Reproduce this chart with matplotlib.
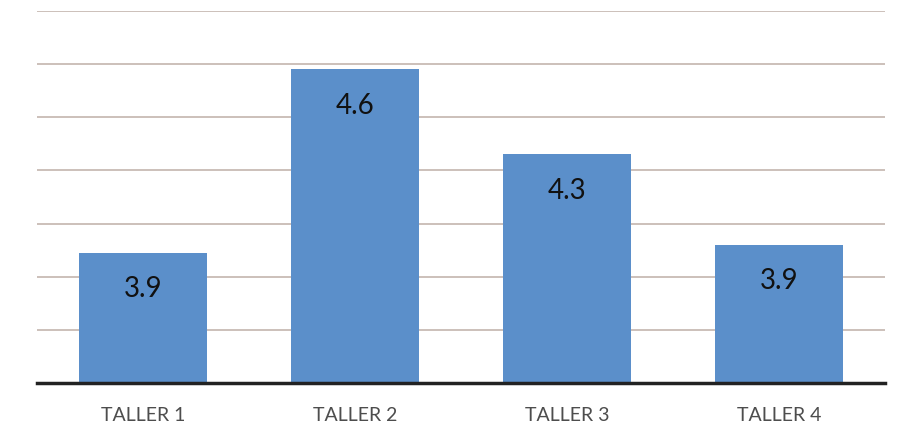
import numpy as np
import matplotlib.pyplot as plt

# Data
talleres = ["TALLER 1", "TALLER 2", "TALLER 3", "TALLER 4"]
valores = [3.89, 4.58, 4.26, 3.92]
etiquetas = ["3.9", "4.6", "4.3", "3.9"]

plt.rcParams['font.family'] = ['Lato', 'DejaVu Sans']

fig = plt.figure(figsize=(9.04, 4.43), dpi=100)
ax = fig.add_axes([0.041, 0.1354, 0.938, 0.8398])

x = np.arange(len(talleres))
bars = ax.bar(x, valores, width=0.6, bottom=0, color="#5b8fca", zorder=3)

for b, lab in zip(bars, etiquetas):
    ax.annotate(lab, (b.get_x() + b.get_width() / 2, b.get_height()),
                xytext=(0, -26), textcoords="offset points",
                ha="center", va="center", fontsize=20, color="#111111", zorder=4)

ax.set_ylim(3.4, 4.8)
ax.set_xlim(-0.5, 3.5)
ax.set_yticks(np.arange(3.4, 4.81, 0.2))
ax.yaxis.grid(True, color="#c8bbb4", linewidth=1.3, zorder=0)
ax.tick_params(axis="y", left=False, labelleft=False)
ax.tick_params(axis="x", length=0, pad=17, labelsize=14, labelcolor="#4d4d4d")
ax.set_xticks(x)
ax.set_xticklabels(talleres)

for s in ["top", "right", "left"]:
    ax.spines[s].set_visible(False)
ax.spines["bottom"].set_color("#222222")
ax.spines["bottom"].set_linewidth(2.5)
ax.spines["bottom"].set_zorder(5)

fig.savefig("out.png", dpi=100)
